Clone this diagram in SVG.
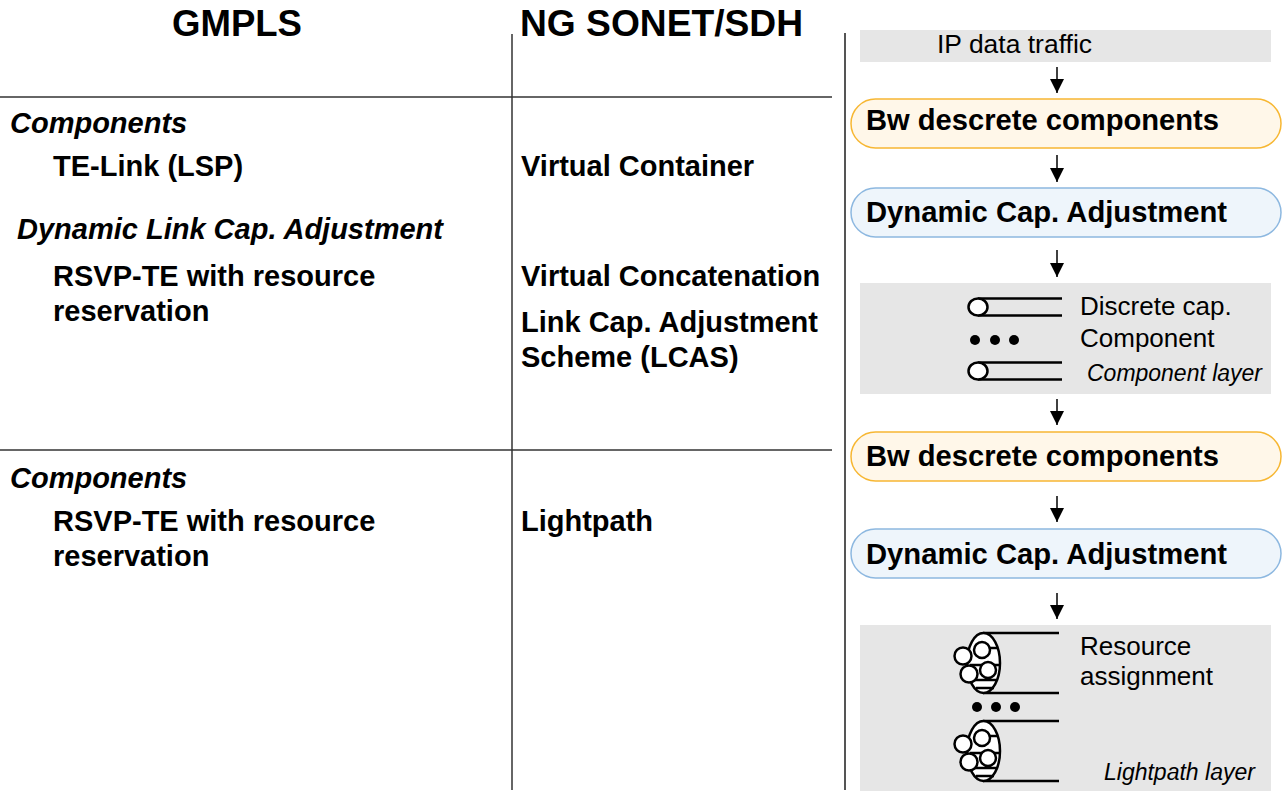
<svg xmlns="http://www.w3.org/2000/svg" xmlns:xlink="http://www.w3.org/1999/xlink" width="1286" height="791" viewBox="0 0 1286 791">
<style>
.h{font-family:"Liberation Sans",Arial,sans-serif;font-weight:bold;font-size:36px;fill:#000}
.b{font-family:"Liberation Sans",Arial,sans-serif;font-weight:bold;font-size:29px;fill:#000}
.bi{font-family:"Liberation Sans",Arial,sans-serif;font-weight:bold;font-style:italic;font-size:29px;fill:#000}
.r{font-family:"Liberation Sans",Arial,sans-serif;font-size:26px;fill:#000}
.ri{font-family:"Liberation Sans",Arial,sans-serif;font-style:italic;font-size:23px;fill:#000}
.gray{fill:#e6e6e6}
.pillO{fill:#fff7e9;stroke:#f7b733;stroke-width:1.5}
.pillB{fill:#eef5fb;stroke:#8db8e0;stroke-width:1.5}
.div{stroke:#333;stroke-width:1.5;fill:none}
.conn{stroke:#000;stroke-width:1.5;fill:none;marker-end:url(#ah)}
.ic{stroke:#000;stroke-width:2.5;fill:none}
.icw{stroke:#000;stroke-width:2.5;fill:#fff}
</style>
<defs>
<marker id="ah" markerUnits="userSpaceOnUse" markerWidth="14" markerHeight="14" refX="14" refY="7" orient="auto" viewBox="0 0 14 14">
<path d="M0,0 L14,7 L0,14 z" fill="#000"/>
</marker>
<g id="comp">
<line class="ic" x1="978" y1="298.5" x2="1062" y2="298.5"/>
<line class="ic" x1="978" y1="315.5" x2="1062" y2="315.5"/>
<ellipse class="icw" cx="978" cy="307" rx="9.5" ry="8.5"/>
</g>
<g id="cable">
<line class="ic" x1="983" y1="633" x2="1059" y2="633"/>
<line class="ic" x1="983" y1="693" x2="1059" y2="693"/>
<ellipse class="icw" cx="983.5" cy="663" rx="16.5" ry="30"/>
<line class="ic" x1="974" y1="648" x2="998" y2="648"/>
<line class="ic" x1="970" y1="665" x2="999" y2="665"/>
<line class="ic" x1="972" y1="680" x2="997" y2="680"/>
<line class="ic" x1="976" y1="688" x2="994" y2="688"/>
<circle class="icw" cx="963" cy="656" r="8.5"/>
<circle class="icw" cx="982" cy="650" r="8"/>
<circle class="icw" cx="969" cy="674" r="8.5"/>
<circle class="icw" cx="988" cy="670" r="8"/>
</g>
</defs>
<rect width="1286" height="791" fill="#fff"/>

<g id="dividers">
<line class="div" x1="512" y1="34" x2="512" y2="790"/>
<line x1="845" y1="33" x2="845" y2="790" stroke="#555" stroke-width="2"/>
<line class="div" x1="0" y1="97" x2="832" y2="97"/>
<line class="div" x1="0" y1="450" x2="832" y2="450"/>
</g>

<g id="headers">
<text class="h" x="172" y="36" textLength="130" lengthAdjust="spacingAndGlyphs">GMPLS</text>
<text class="h" x="520" y="36" textLength="283" lengthAdjust="spacingAndGlyphs">NG SONET/SDH</text>
</g>

<g id="gmpls-upper">
<text class="bi" x="10" y="133">Components</text>
<text class="b" x="53" y="176">TE-Link (LSP)</text>
<text class="bi" x="17" y="239">Dynamic Link Cap. Adjustment</text>
<text class="b" x="53" y="286">RSVP-TE with resource</text>
<text class="b" x="53" y="321">reservation</text>
</g>
<g id="sonet-upper">
<text class="b" x="521" y="176">Virtual Container</text>
<text class="b" x="521" y="286">Virtual Concatenation</text>
<text class="b" x="521" y="332">Link Cap. Adjustment</text>
<text class="b" x="521" y="367">Scheme (LCAS)</text>
</g>
<g id="gmpls-lower">
<text class="bi" x="10" y="488">Components</text>
<text class="b" x="53" y="531">RSVP-TE with resource</text>
<text class="b" x="53" y="566">reservation</text>
</g>
<g id="sonet-lower">
<text class="b" x="521" y="531">Lightpath</text>
</g>

<g id="ip-traffic">
<rect class="gray" x="860" y="30" width="411" height="32"/>
<text class="r" x="937" y="53" textLength="155" lengthAdjust="spacingAndGlyphs">IP data traffic</text>
</g>
<g id="bw1">
<rect class="pillO" x="851" y="99" width="430" height="49" rx="24.5"/>
<text class="b" x="866" y="130" textLength="353" lengthAdjust="spacingAndGlyphs">Bw descrete components</text>
</g>
<g id="dyn1">
<rect class="pillB" x="851" y="188" width="430" height="49" rx="24.5"/>
<text class="b" x="866" y="222" textLength="361" lengthAdjust="spacingAndGlyphs">Dynamic Cap. Adjustment</text>
</g>
<g id="component-layer">
<rect class="gray" x="860" y="283" width="411" height="111"/>
<use xlink:href="#comp"/>
<circle cx="975" cy="340" r="5" fill="#000"/>
<circle cx="995" cy="340" r="5" fill="#000"/>
<circle cx="1014" cy="340" r="5" fill="#000"/>
<use xlink:href="#comp" transform="translate(0,64)"/>
<text class="r" x="1080" y="315">Discrete cap.</text>
<text class="r" x="1080" y="347">Component</text>
<text class="ri" x="1087" y="381" textLength="175" lengthAdjust="spacingAndGlyphs">Component layer</text>
</g>
<g id="bw2">
<rect class="pillO" x="851" y="432" width="430" height="49" rx="24.5"/>
<text class="b" x="866" y="466" textLength="353" lengthAdjust="spacingAndGlyphs">Bw descrete components</text>
</g>
<g id="dyn2">
<rect class="pillB" x="851" y="529" width="430" height="49" rx="24.5"/>
<text class="b" x="866" y="564" textLength="361" lengthAdjust="spacingAndGlyphs">Dynamic Cap. Adjustment</text>
</g>
<g id="lightpath-layer">
<rect class="gray" x="860" y="625" width="411" height="166"/>
<use xlink:href="#cable"/>
<circle cx="977" cy="707" r="5" fill="#000"/>
<circle cx="996" cy="707" r="5" fill="#000"/>
<circle cx="1015" cy="707" r="5" fill="#000"/>
<use xlink:href="#cable" transform="translate(0,88)"/>
<text class="r" x="1080" y="655">Resource</text>
<text class="r" x="1080" y="685">assignment</text>
<text class="ri" x="1104" y="780">Lightpath layer</text>
</g>

<g id="connectors">
<line class="conn" x1="1057" y1="67" x2="1057" y2="93"/>
<line class="conn" x1="1057" y1="155" x2="1057" y2="182"/>
<line class="conn" x1="1057" y1="250" x2="1057" y2="277"/>
<line class="conn" x1="1057" y1="399" x2="1057" y2="425"/>
<line class="conn" x1="1057" y1="496" x2="1057" y2="522"/>
<line class="conn" x1="1057" y1="593" x2="1057" y2="619"/>
</g>
</svg>
